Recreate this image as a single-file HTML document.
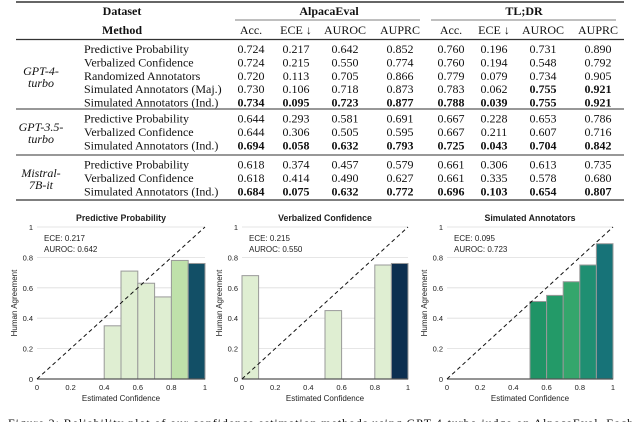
<!DOCTYPE html>
<html><head><meta charset="utf-8"><style>
body{margin:0;background:#fff;}
svg{display:block;}
.t{font-family:"Liberation Serif",serif;font-size:12px;fill:#111;}
.b{font-weight:bold;}
.i{font-style:italic;}
.c{font-family:"Liberation Sans",sans-serif;fill:#222;}
</style></head><body>
<svg id="fig" width="640" height="422" viewBox="0 0 640 422">
<g id="table"></g>
<g id="charts"></g>
<text class="t" x="8" y="427" font-size="15" textLength="625">Figure 2: Reliability plot of our confidence estimation methods using GPT-4-turbo judge on AlpacaEval. Each</text>
</svg>
<script>
const NS="http://www.w3.org/2000/svg";
function el(tag,attrs,parent,text){const e=document.createElementNS(NS,tag);for(const k in attrs)e.setAttribute(k,attrs[k]);if(text!==undefined)e.textContent=text;parent.appendChild(e);return e;}
const tbl=document.getElementById('table');
const colX=[251,296,345,400,451,494,543,598];
const colHeads=["Acc.","ECE ↓","AUROC","AUPRC","Acc.","ECE ↓","AUROC","AUPRC"];
const models=[["GPT-4-","turbo"],["GPT-3.5-","turbo"],["Mistral-","7B-it"]];
const methods=[
["Predictive Probability","Verbalized Confidence","Randomized Annotators","Simulated Annotators (Maj.)","Simulated Annotators (Ind.)"],
["Predictive Probability","Verbalized Confidence","Simulated Annotators (Ind.)"],
["Predictive Probability","Verbalized Confidence","Simulated Annotators (Ind.)"]];
const vals=[
[["0.724","0.217","0.642","0.852","0.760","0.196","0.731","0.890"],
 ["0.724","0.215","0.550","0.774","0.760","0.194","0.548","0.792"],
 ["0.720","0.113","0.705","0.866","0.779","0.079","0.734","0.905"],
 ["0.730","0.106","0.718","0.873","0.783","0.062","0.755*","0.921*"],
 ["0.734*","0.095*","0.723*","0.877*","0.788*","0.039*","0.755*","0.921*"]],
[["0.644","0.293","0.581","0.691","0.667","0.228","0.653","0.786"],
 ["0.644","0.306","0.505","0.595","0.667","0.211","0.607","0.716"],
 ["0.694*","0.058*","0.632*","0.793*","0.725*","0.043*","0.704*","0.842*"]],
[["0.618","0.374","0.457","0.579","0.661","0.306","0.613","0.735"],
 ["0.618","0.414","0.490","0.627","0.661","0.335","0.578","0.680"],
 ["0.684*","0.075*","0.632*","0.772*","0.696*","0.103*","0.654*","0.807*"]]];
let t;
const L=16,R=624;
el('line',{x1:L,x2:R,y1:2,y2:2,stroke:'#333','stroke-width':1.5},tbl);
t=el('text',{class:'t b',x:122,y:15,'text-anchor':'middle'},tbl,'Dataset');
t=el('text',{class:'t b',x:329,y:15,'text-anchor':'middle'},tbl,'AlpacaEval');
t=el('text',{class:'t b',x:524,y:15,'text-anchor':'middle'},tbl,'TL;DR');
el('line',{x1:235,x2:420,y1:20,y2:20,stroke:'#555','stroke-width':0.8},tbl);
el('line',{x1:431,x2:616,y1:20,y2:20,stroke:'#555','stroke-width':0.8},tbl);
t=el('text',{class:'t b',x:122,y:34,'text-anchor':'middle'},tbl,'Method');
colHeads.forEach((h,i)=>{const e=el('text',{class:'t',x:colX[i],y:34,'text-anchor':'middle'},tbl,h);});
el('line',{x1:L,x2:R,y1:39.5,y2:39.5,stroke:'#333','stroke-width':1.2},tbl);
const groupTop=[39.5,109,155];
models.forEach((m,g)=>{
  const top=groupTop[g];const n=methods[g].length;
  if(g>0)el('line',{x1:L,x2:R,y1:top,y2:top,stroke:'#777','stroke-width':1.4},tbl);
  const mid=top+3+n*13.4/2;
  const a=el('text',{class:'t i',x:41,y:mid-1,'text-anchor':'middle'},tbl,m[0]);
  const b=el('text',{class:'t i',x:41,y:mid+11,'text-anchor':'middle'},tbl,m[1]);
  methods[g].forEach((name,r)=>{
    const y=top+13.5+r*13.4;
    const e=el('text',{class:'t',x:84,y:y},tbl,name);
    vals[g][r].forEach((v,c)=>{const bold=v.endsWith('*');const e2=el('text',{class:'t'+(bold?' b':''),x:colX[c],y:y,'text-anchor':'middle'},tbl,v.replace('*',''));});
  });
});
el('line',{x1:L,x2:R,y1:200,y2:200,stroke:'#333','stroke-width':1.2},tbl);

// Charts data
const titles=["Predictive Probability","Verbalized Confidence","Simulated Annotators"];
const eceLabels=["ECE: 0.217","ECE: 0.215","ECE: 0.095"];
const aurocLabels=["AUROC: 0.642","AUROC: 0.550","AUROC: 0.723"];
const binStarts1=[0.4,0.5,0.6,0.7,0.8,0.9];
const binVals1=[0.35,0.71,0.63,0.54,0.78,0.76];
const binStarts2=[0.0,0.5,0.8,0.9];
const binVals2=[0.68,0.45,0.75,0.76];
const binStarts3=[0.5,0.6,0.7,0.8,0.9];
const binVals3=[0.51,0.55,0.64,0.75,0.89];
const colors1=["#dfeed2","#dfeed2","#dfeed2","#dfeed2","#bfe1aa","#124f66"];
const colors2=["#dfeed2","#dfeed2","#dfeed2","#0c2f50"];
const colors3=["#1f9466","#239a68","#34a66c","#1f8f72","#177378"];
const xTicks=[0,0.2,0.4,0.6,0.8,1];
const yTicks=[0,0.2,0.4,0.6,0.8,1];
const panels=[{x0:37,x1:205,s:binStarts1,v:binVals1,c:colors1},{x0:242,x1:408,s:binStarts2,v:binVals2,c:colors2},{x0:447,x1:613,s:binStarts3,v:binVals3,c:colors3}];
const Y0=379,Y1=227;
const ch=document.getElementById('charts');
panels.forEach((p,k)=>{
  const g=el('g',{},ch);
  const xs=v=>p.x0+v*(p.x1-p.x0), ys=v=>Y0-v*(Y0-Y1);
  yTicks.forEach(v=>{if(v>0)el('line',{x1:xs(0),x2:xs(1),y1:ys(v),y2:ys(v),stroke:'#ddd','stroke-width':0.8},g);
    const tl=el('text',{class:'c',x:xs(0)-4,y:ys(v)+3,'font-size':7.5,'text-anchor':'end'},g,String(v));});
  xTicks.forEach(v=>{const tl=el('text',{class:'c',x:xs(v),y:390,'font-size':7.5,'text-anchor':'middle'},g,String(v));});
  p.s.forEach((s,i)=>{const r=el('rect',{x:xs(s),y:ys(p.v[i]),width:xs(s+0.1)-xs(s),height:ys(0)-ys(p.v[i]),fill:p.c[i],stroke:'#999','stroke-width':1},g);
    });
  el('line',{x1:xs(0),x2:xs(1),y1:ys(0),y2:ys(0),stroke:'#555','stroke-width':1.2},g);
  const d=el('line',{x1:xs(0),y1:ys(0),x2:xs(1),y2:ys(1),stroke:'#111','stroke-width':1,'stroke-dasharray':'4,3'},g);
  const ti=el('text',{class:'c',x:(xs(0)+xs(1))/2,y:221,'font-size':8.8,'font-weight':'bold','text-anchor':'middle'},g,titles[k]);
  const e1=el('text',{class:'c',x:xs(0)+7,y:241,'font-size':8},g,eceLabels[k]);
  const e2=el('text',{class:'c',x:xs(0)+7,y:252,'font-size':8},g,aurocLabels[k]);
  const xt=el('text',{class:'c',x:(xs(0)+xs(1))/2,y:401,'font-size':8,'text-anchor':'middle'},g,'Estimated Confidence');
  const yt=el('text',{class:'c',x:0,y:0,'font-size':8,'text-anchor':'middle',transform:`translate(${xs(0)-20},${ys(0.5)}) rotate(-90)`},g,'Human Agreement');
});
</script>
</body></html>
